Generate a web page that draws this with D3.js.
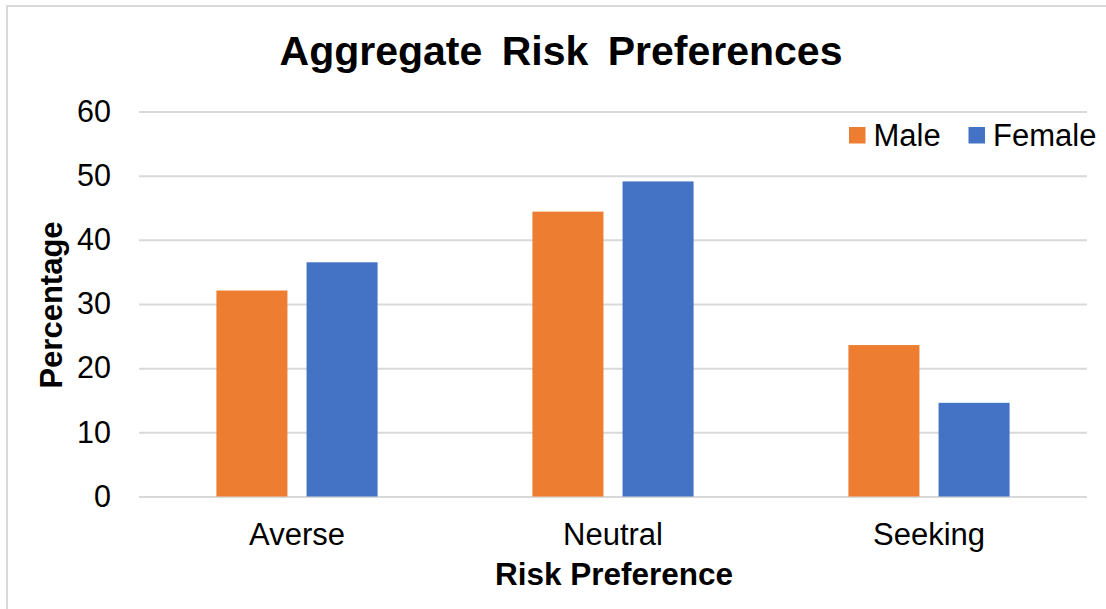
<!DOCTYPE html>
<html>
<head>
<meta charset="utf-8">
<script src="https://cdn.jsdelivr.net/npm/d3@7"></script>
<style>
  html, body { margin: 0; padding: 0; background: #fff; }
  svg { display: block; font-family: "Liberation Sans", Arial, Helvetica, sans-serif; }
</style>
</head>
<body>
<svg id="chart" width="1106" height="609"></svg>
<script>
// Risk preference categories and the share (%) of each group
const categories = ["Averse", "Neutral", "Seeking"];
const seriesNames = ["Male", "Female"];
const maleValues = [32.1, 44.4, 23.6];
const femaleValues = [36.5, 49.1, 14.6];
const yTicks = [0, 10, 20, 30, 40, 50, 60];
const seriesColors = ["#ED7D31", "#4472C4"];

const titleText = "Aggregate Risk Preferences";
const xTitleText = "Risk Preference";
const yTitleText = "Percentage";

const values = [maleValues, femaleValues];
const rows = categories.map((c, i) => ({
  category: c,
  bars: seriesNames.map((s, j) => ({ series: s, value: values[j][i], color: seriesColors[j] }))
}));

const svg = d3.select("#chart");

// Chart area frame
svg.append("rect")
  .attr("x", 7).attr("y", 6)
  .attr("width", 1120).attr("height", 620)
  .attr("fill", "#fff")
  .attr("stroke", "#D9D9D9")
  .attr("stroke-width", 2);

const plot = { left: 139, right: 1087, top: 111.5, bottom: 496.5 };

const y = d3.scaleLinear().domain([0, 60]).range([plot.bottom, plot.top]);

const x0 = d3.scaleBand()
  .domain(categories)
  .range([plot.left, plot.right])
  .paddingInner(0.49)
  .paddingOuter(0.245);

const x1 = d3.scaleBand()
  .domain(seriesNames)
  .range([0, x0.bandwidth()])
  .paddingInner(0.212)
  .paddingOuter(0);

// Horizontal gridlines and value labels
const yAxis = d3.axisLeft(y)
  .tickValues(yTicks)
  .tickSize(-(plot.right - plot.left))
  .tickPadding(28)
  .tickFormat(d3.format("d"));

const gy = svg.append("g")
  .attr("transform", `translate(${plot.left},0)`)
  .call(yAxis);
gy.select(".domain").remove();
gy.selectAll(".tick line")
  .attr("stroke", "#D9D9D9")
  .attr("stroke-width", 2);
gy.selectAll(".tick text")
  .attr("fill", "#000")
  .attr("font-size", 30.5)
  .attr("font-family", "'Liberation Sans', Arial, sans-serif");

// Bars
const groups = svg.append("g")
  .selectAll("g")
  .data(rows)
  .join("g")
  .attr("transform", d => `translate(${x0(d.category)},0)`);

groups.selectAll("rect")
  .data(d => d.bars)
  .join("rect")
  .attr("x", d => x1(d.series))
  .attr("y", d => y(d.value))
  .attr("width", x1.bandwidth())
  .attr("height", d => y(0) - y(d.value))
  .attr("fill", d => d.color);

// Category labels
const xAxis = d3.axisBottom(x0).tickSize(0).tickPadding(0);
const gx = svg.append("g")
  .attr("transform", `translate(0,${plot.bottom})`)
  .call(xAxis);
gx.select(".domain").remove();
gx.selectAll(".tick text")
  .attr("fill", "#000")
  .attr("font-size", 31)
  .attr("font-family", "'Liberation Sans', Arial, sans-serif")
  .attr("dy", null)
  .attr("y", 48.5);

// Title
svg.append("text")
  .attr("x", 561).attr("y", 65)
  .attr("text-anchor", "middle")
  .attr("font-size", 41)
  .attr("font-weight", "bold")
  .attr("word-spacing", 8)
  .attr("fill", "#000")
  .text(titleText);

// Axis titles
svg.append("text")
  .attr("x", (plot.left + plot.right) / 2 + 1).attr("y", 585)
  .attr("text-anchor", "middle")
  .attr("font-size", 31.5)
  .attr("font-weight", "bold")
  .attr("fill", "#000")
  .text(xTitleText);

svg.append("text")
  .attr("transform", "translate(62,305) rotate(-90)")
  .attr("text-anchor", "middle")
  .attr("font-size", 31)
  .attr("font-weight", "bold")
  .attr("fill", "#000")
  .text(yTitleText);

// Legend
const legendX = [849, 968.5];
const legend = svg.append("g")
  .selectAll("g")
  .data(seriesNames)
  .join("g")
  .attr("transform", (d, i) => `translate(${legendX[i]},127)`);
legend.append("rect")
  .attr("width", 16.5).attr("height", 16.5)
  .attr("fill", (d, i) => seriesColors[i]);
legend.append("text")
  .attr("x", 24.5).attr("y", 18.5)
  .attr("font-size", 31)
  .attr("fill", "#000")
  .text(d => d);
</script>
</body>
</html>
